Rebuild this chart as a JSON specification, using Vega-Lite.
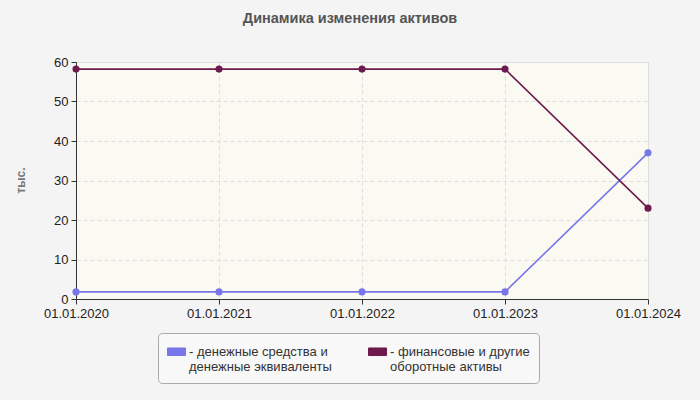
{
  "$schema": "https://vega.github.io/schema/vega-lite/v6.json",
  "width": 572,
  "height": 237,
  "autosize": {"type": "none"},
  "padding": {"left": 76, "top": 62, "right": 52, "bottom": 101},
  "background": "#f4f4f4",
  "title": {
    "text": "Динамика изменения активов",
    "font": "Liberation Sans",
    "fontSize": 14.5,
    "fontWeight": "bold",
    "color": "#555555",
    "anchor": "middle",
    "dx": -12,
    "offset": 30
  },
  "config": {
    "font": "Liberation Sans",
    "view": {"fill": "#fafaf2", "stroke": "#dddddd"}
  },
  "data": {
    "values": [
      {"date": "01.01.2020", "series": "- денежные средства и|денежные эквиваленты", "value": 1.8},
      {"date": "01.01.2021", "series": "- денежные средства и|денежные эквиваленты", "value": 1.8},
      {"date": "01.01.2022", "series": "- денежные средства и|денежные эквиваленты", "value": 1.8},
      {"date": "01.01.2023", "series": "- денежные средства и|денежные эквиваленты", "value": 1.8},
      {"date": "01.01.2024", "series": "- денежные средства и|денежные эквиваленты", "value": 37.0},
      {"date": "01.01.2020", "series": "- финансовые и другие|оборотные активы", "value": 58.2},
      {"date": "01.01.2021", "series": "- финансовые и другие|оборотные активы", "value": 58.2},
      {"date": "01.01.2022", "series": "- финансовые и другие|оборотные активы", "value": 58.2},
      {"date": "01.01.2023", "series": "- финансовые и другие|оборотные активы", "value": 58.2},
      {"date": "01.01.2024", "series": "- финансовые и другие|оборотные активы", "value": 23.0}
    ]
  },
  "mark": {"type": "line", "strokeWidth": 1.6, "point": {"filled": true, "size": 50, "opacity": 1}},
  "encoding": {
    "x": {
      "field": "date",
      "type": "ordinal",
      "sort": null,
      "scale": {"type": "point", "padding": 0},
      "axis": {
        "title": null,
        "labelAngle": 0,
        "labelFontSize": 13,
        "labelColor": "#222222",
        "labelPadding": 3,
        "tickSize": 5,
        "tickColor": "#333333",
        "domainColor": "#333333",
        "grid": true,
        "gridColor": "#dddddd",
        "gridDash": [4, 3]
      }
    },
    "y": {
      "field": "value",
      "type": "quantitative",
      "scale": {"domain": [0, 60], "nice": false},
      "axis": {
        "title": "тыс.",
        "titleFontSize": 12,
        "titleFontWeight": "bold",
        "titleColor": "#777777",
        "titleAngle": -90,
        "titleX": -56,
        "titleY": 118,
        "titleAlign": "center",
        "titleBaseline": "middle",
        "values": [0, 10, 20, 30, 40, 50, 60],
        "labelFontSize": 13,
        "labelColor": "#222222",
        "labelPadding": 3,
        "tickSize": 5,
        "tickColor": "#333333",
        "domainColor": "#333333",
        "grid": true,
        "gridColor": "#dddddd",
        "gridDash": [4, 3]
      }
    },
    "color": {
      "field": "series",
      "type": "nominal",
      "scale": {"range": ["#7777ea", "#6e1a4e"]},
      "legend": {
        "title": null,
        "orient": "none",
        "legendX": 82,
        "legendY": 271,
        "direction": "horizontal",
        "columns": 2,
        "columnPadding": 34,
        "padding": 9,
        "strokeColor": "#aaaaaa",
        "fillColor": "#f8f8f8",
        "cornerRadius": 4,
        "symbolType": "M-1,-0.42H1V0.42H-1Z",
        "symbolSize": 324,
        "symbolStrokeWidth": 1,
        "labelExpr": "split(datum.label, '|')",
        "labelFontSize": 13,
        "labelColor": "#333333",
        "labelLimit": 300,
        "labelOffset": 3,
        "encode": {
          "symbols": {"update": {"fill": {"scale": "color", "field": "value"}, "stroke": {"value": "#888888"}, "opacity": {"value": 1}}}
        }
      }
    }
  }
}
